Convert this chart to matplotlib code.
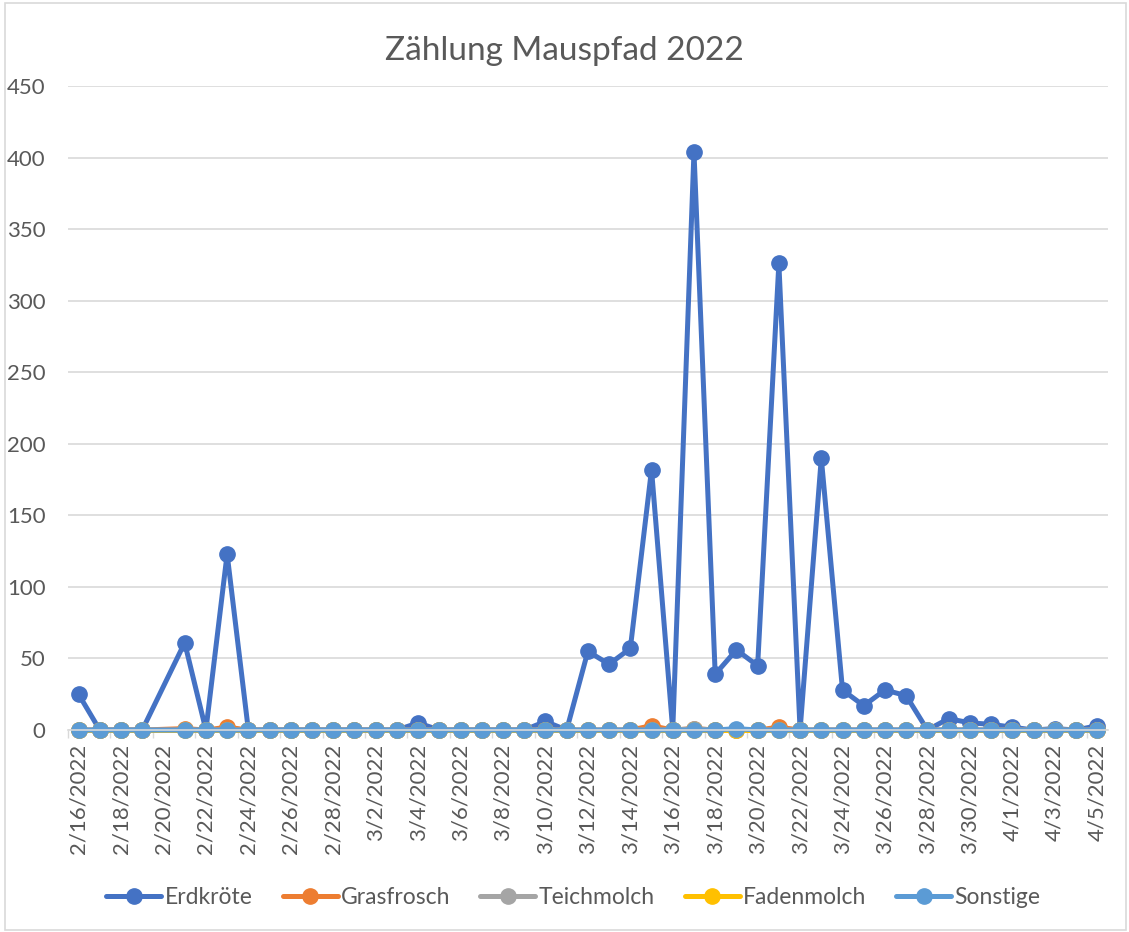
import pandas as pd
import matplotlib.pyplot as plt
from matplotlib.patches import Rectangle

# Count dates (2/20 is missing in the data)
dates = ["2022-02-16", "2022-02-17", "2022-02-18", "2022-02-19", "2022-02-21",
         "2022-02-22", "2022-02-23", "2022-02-24", "2022-02-25", "2022-02-26",
         "2022-02-27", "2022-02-28", "2022-03-01", "2022-03-02", "2022-03-03",
         "2022-03-04", "2022-03-05", "2022-03-06", "2022-03-07", "2022-03-08",
         "2022-03-09", "2022-03-10", "2022-03-11", "2022-03-12", "2022-03-13",
         "2022-03-14", "2022-03-15", "2022-03-16", "2022-03-17", "2022-03-18",
         "2022-03-19", "2022-03-20", "2022-03-21", "2022-03-22", "2022-03-23",
         "2022-03-24", "2022-03-25", "2022-03-26", "2022-03-27", "2022-03-28",
         "2022-03-29", "2022-03-30", "2022-03-31", "2022-04-01", "2022-04-02",
         "2022-04-03", "2022-04-04", "2022-04-05"]

erdkroete = [25, 0, 0, 0, 61, 0, 123, 0, 0, 0, 0, 0, 0, 0, 0, 5, 0, 0, 0, 0,
             0, 6, 0, 55, 46, 57, 182, 0, 404, 39, 56, 45, 326, 0, 190, 28, 17,
             28, 24, 0, 8, 5, 4, 2, 0, 1, 0, 3]
grasfrosch = [0, 0, 0, 0, 1, 0, 2, 0, 0, 0, 0, 0, 0, 0, 0, 0, 0, 0, 0, 0,
              0, 0, 0, 0, 0, 0, 3, 0, 1, 0, 0, 0, 2, 0, 0, 0, 0,
              0, 0, 0, 0, 0, 0, 0, 0, 0, 0, 0]
teichmolch = [0, 0, 0, 0, 0, 0, 0, 0, 0, 0, 0, 0, 0, 0, 0, 0, 0, 0, 0, 0,
              0, 0, 0, 0, 0, 0, 0, 0, 1, 0, 0, 0, 0, 0, 0, 0, 0,
              0, 0, 0, 0, 0, 0, 0, 0, 0, 0, 0]
fadenmolch = [0] * 48
sonstige = [0, 0, 0, 0, 0, 0, 0, 0, 0, 0, 0, 0, 0, 0, 0, 0, 0, 0, 0, 0,
            0, 0, 0, 0, 0, 0, 0, 0, 0, 0, 1, 0, 0, 0, 0, 0, 0,
            0, 0, 0, 0, 0, 0, 0, 0, 0, 0, 0]

series = [("Erdkröte", erdkroete, "#4472C4"),
          ("Grasfrosch", grasfrosch, "#ED7D31"),
          ("Teichmolch", teichmolch, "#A5A5A5"),
          ("Fadenmolch", fadenmolch, "#FFC000"),
          ("Sonstige", sonstige, "#5B9BD5")]

plt.rcParams['font.family'] = ['Lato', 'DejaVu Sans']
text_col = "#595959"

x = pd.to_datetime(dates)

fig = plt.figure(figsize=(11.29, 9.32), dpi=100)
fig.patches.append(Rectangle((0.004, 0.002), 0.993, 0.995, transform=fig.transFigure,
                             fill=False, edgecolor="#D9D9D9", linewidth=1.2))
ax = fig.add_axes([0.0602, 0.2167, 0.921, 0.691])

for name, vals, col in series:
    ax.plot(x, vals, color=col, linewidth=3.6, marker='o', markersize=11,
            solid_capstyle='round', label=name, clip_on=False)

ax.set_ylim(0, 450)
ax.set_yticks(range(0, 451, 50))
ax.set_xlim(pd.Timestamp("2022-02-16") - pd.Timedelta(hours=12),
            pd.Timestamp("2022-04-05") + pd.Timedelta(hours=12))

label_days = pd.date_range("2022-02-16", "2022-04-05", freq="2D")
ax.set_xticks(label_days)
ax.set_xticklabels([f"{d.month}/{d.day}/{d.year}" for d in label_days], rotation=90)
minor = pd.date_range(pd.Timestamp("2022-02-15 12:00"), periods=25, freq="2D")
ax.set_xticks(minor, minor=True)

ax.tick_params(axis='x', which='major', length=0, pad=10, labelsize=16, labelcolor=text_col)
ax.tick_params(axis='x', which='minor', length=6, color="#D9D9D9", width=1)
ax.tick_params(axis='y', length=0, pad=16, labelsize=16, labelcolor=text_col)

ax.grid(axis='y', color="#D9D9D9", linewidth=1.2)
ax.set_axisbelow(True)
for side in ["top", "right", "left"]:
    ax.spines[side].set_visible(False)
ax.spines["bottom"].set_color("#D9D9D9")
ax.spines["bottom"].set_linewidth(1.2)

fig.text(0.5, 0.945, "Zählung Mauspfad 2022", ha='center', va='center',
         fontsize=24, color=text_col)

fig.legend(loc='center', bbox_to_anchor=(0.508, 0.037), ncol=5, frameon=False,
           fontsize=16.5, labelcolor=text_col, handlelength=2.4, handletextpad=0.15,
           columnspacing=1.3)

fig.savefig("out.png", dpi=100)
